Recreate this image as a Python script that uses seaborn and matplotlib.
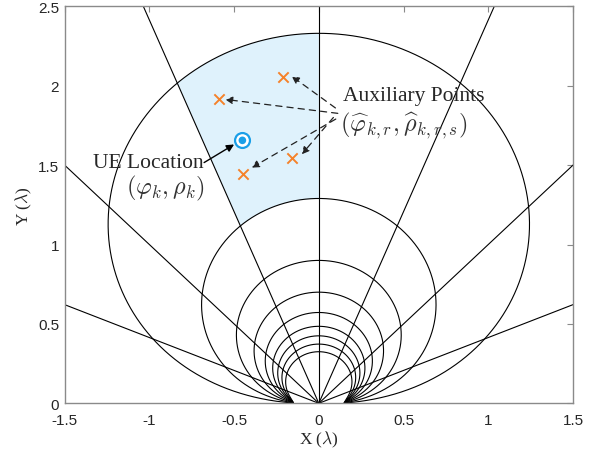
import numpy as np
import pandas as pd
import matplotlib
matplotlib.use('Agg')
import matplotlib.pyplot as plt
import seaborn as sns

# ring heights on the y axis (lambda)
ring_heights = [2.33, 1.29, 0.90, 0.70, 0.572, 0.485, 0.425, 0.373, 0.325]
ring_power = 0.83   # ring shape ~ h * cos(phi) ** ring_power
ring_foot = 0.15    # rings reach the x axis at +-ring_foot
ray_angles = [-67.5, -45.0, -22.5, 0.0, 22.5, 45.0, 67.5]  # degrees from y axis

# shaded sector: angles and ring indices
sector_angles = [-22.5, 0.0]
sector_rings = [0, 1]

# auxiliary points and UE location
aux_x = [-0.213, -0.591, -0.160, -0.445]
aux_y = [2.057, 1.918, 1.547, 1.442]
ue_x = [-0.451]
ue_y = [1.656]

# dashed arrows: tail -> head
arrow_tail_x = [0.098, 0.112, 0.086, 0.100]
arrow_tail_y = [1.860, 1.826, 1.800, 1.790]
arrow_head_x = [-0.160, -0.553, -0.101, -0.396]
arrow_head_y = [2.060, 1.914, 1.568, 1.484]

xticks = [-1.5, -1, -0.5, 0, 0.5, 1, 1.5]
yticks = [0, 0.5, 1, 1.5, 2, 2.5]


def ring_xy(h, phi_deg):
    phi = np.radians(phi_deg)
    r = np.sqrt((h * np.abs(np.cos(phi)) ** ring_power) ** 2
                + (ring_foot * np.sin(phi)) ** 2)
    return r * np.sin(phi), r * np.cos(phi)


sns.set_style('white')
plt.rcParams['font.family'] = ['Liberation Serif', 'DejaVu Serif']
plt.rcParams['mathtext.fontset'] = 'cm'

fig = plt.figure(figsize=(6, 4.52), dpi=100)
ax = fig.add_axes([0.1077, 0.1055, 0.8473, 0.8783])

# shaded sector
phi_s = np.linspace(sector_angles[0], sector_angles[1], 100)
ox, oy = ring_xy(ring_heights[sector_rings[0]], phi_s)
ix, iy = ring_xy(ring_heights[sector_rings[1]], phi_s[::-1])
ax.fill(np.r_[ox, ix], np.r_[oy, iy], color='#DFF2FC', lw=0, zorder=0)

# rings
phi = np.linspace(-90, 90, 2881)
rows = []
for i, h in enumerate(ring_heights):
    x, y = ring_xy(h, phi)
    rows.append(pd.DataFrame({'x': x, 'y': y, 'ring': i}))
rings = pd.concat(rows, ignore_index=True)
sns.lineplot(data=rings, x='x', y='y', units='ring', estimator=None, sort=False,
             color='black', lw=0.8, ax=ax, zorder=2)

# rays from the origin
rows = []
for i, a in enumerate(ray_angles):
    t = np.radians(a)
    rows.append(pd.DataFrame({'x': [0, 4 * np.sin(t)], 'y': [0, 4 * np.cos(t)], 'ray': i}))
rays = pd.concat(rows, ignore_index=True)
sns.lineplot(data=rays, x='x', y='y', units='ray', estimator=None, sort=False,
             color='black', lw=0.8, ax=ax, zorder=2)

# markers
sns.scatterplot(x=aux_x, y=aux_y, marker='x', color='#F5822A', s=55,
                linewidth=1.4, ax=ax, zorder=5)
sns.scatterplot(x=ue_x, y=ue_y, marker='o', facecolor='white', edgecolor='#1A9FE8',
                s=115, linewidth=1.6, ax=ax, zorder=5)
sns.scatterplot(x=ue_x, y=ue_y, marker='o', color='#1A9FE8', edgecolor='none',
                s=30, ax=ax, zorder=6)

# dashed arrows to auxiliary points
for tx, ty, hx, hy in zip(arrow_tail_x, arrow_tail_y, arrow_head_x, arrow_head_y):
    ax.annotate('', xy=(hx, hy), xytext=(tx, ty),
                arrowprops=dict(arrowstyle='-|>', color='#222222', lw=0.9,
                                linestyle=(0, (5, 4)), mutation_scale=11,
                                shrinkA=0, shrinkB=0), zorder=4)

# UE arrow
ax.annotate('', xy=(-0.500, 1.630), xytext=(-0.677, 1.516),
            arrowprops=dict(arrowstyle='-|>', color='black', lw=1.0,
                            mutation_scale=11, shrinkA=0, shrinkB=0), zorder=4)

ax.text(0.142, 1.94, 'Auxiliary Points', fontsize=15.5, ha='left', va='center')
ax.text(0.125, 1.757, r'$(\widehat{\varphi}_{k,r},\widehat{\rho}_{k,r,s})$',
        fontsize=17.5, ha='left', va='center', color='#333333')
ax.text(-0.680, 1.517, 'UE Location', fontsize=15.5, ha='right', va='center')
ax.text(-0.670, 1.36, r'$(\varphi_k,\rho_k)$', fontsize=17.5, ha='right',
        va='center', color='#333333')

ax.set_xlim(-1.5, 1.5)
ax.set_ylim(0, 2.5)
ax.set_xticks(xticks)
ax.set_yticks(yticks)
ax.set_xticklabels(['-1.5', '-1', '-0.5', '0', '0.5', '1', '1.5'],
                   family='Liberation Sans', fontsize=11)
ax.set_yticklabels(['0', '0.5', '1', '1.5', '2', '2.5'],
                   family='Liberation Sans', fontsize=11)
ax.tick_params(direction='in', length=4, width=0.8, color='#8a8a8a',
               top=True, right=True, labelcolor='#262626')
ax.tick_params(axis='x', pad=7)
ax.tick_params(axis='y', pad=4)
ax.set_xlabel(r'X ($\lambda$)', fontsize=12.5, labelpad=1)
ax.set_ylabel(r'Y ($\lambda$)', fontsize=12.5, labelpad=3)
for sp in ax.spines.values():
    sp.set_color('#8a8a8a')
    sp.set_linewidth(1.0)
    sp.set_zorder(7)

fig.savefig('out.png', dpi=100)
